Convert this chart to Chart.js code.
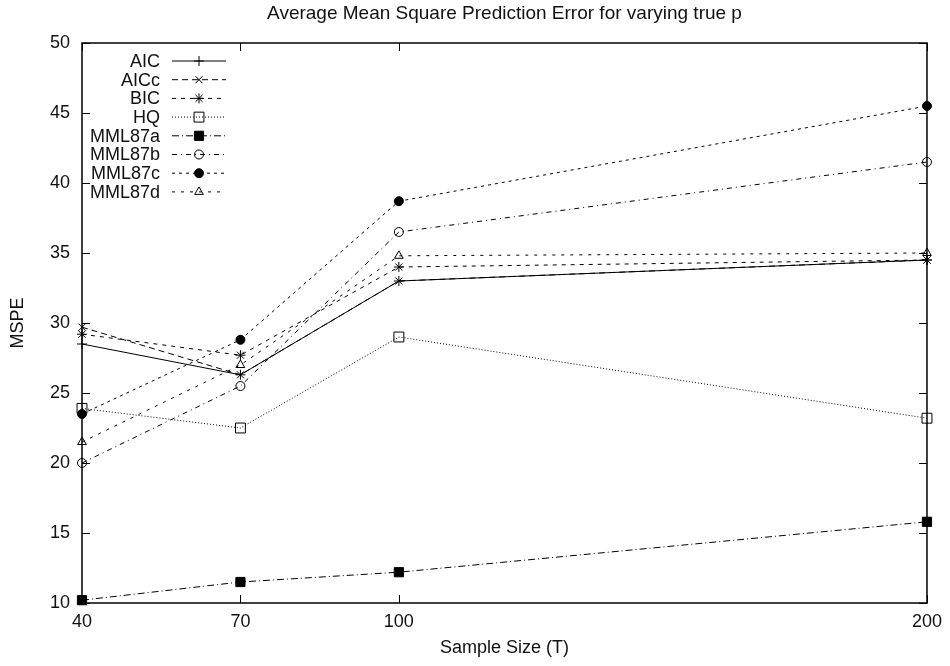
<!DOCTYPE html>
<html>
<head>
<meta charset="utf-8">
<script src="https://cdn.jsdelivr.net/npm/chart.js@4.4.0/dist/chart.umd.min.js"></script>
<style>
    html, body { margin: 0; padding: 0; background: #fff; }
</style>
</head>
<body>
<canvas id="chart" width="950" height="666"></canvas>
<script>
// values
const sampleSizes = [40, 70, 100, 200]
const xTickValues = [40, 70, 100, 200]
const aic = [28.5, 26.3, 33.0, 34.5]
const aicc = [29.7, 26.3, 33.0, 34.5]
const bic = [29.2, 27.7, 34.0, 34.5]
const hq = [23.9, 22.5, 29.0, 23.2]
const mml87a = [10.2, 11.5, 12.2, 15.8]
const mml87b = [20.0, 25.5, 36.5, 41.5]
const mml87c = [23.5, 28.8, 38.7, 45.5]
const mml87d = [21.5, 27.0, 34.8, 35.0]

const chartTitle = 'Average Mean Square Prediction Error for varying true p'
const FONT = '"Liberation Sans", Arial, Helvetica, sans-serif'
const NONE = 'rgba(0,0,0,0)'

function series(label, values, dash, style, radius, fill) {
    return {
        label: label,
        data: values.map((v, i) => ({x: sampleSizes[i], y: v})),
        borderColor: '#000',
        borderWidth: 1,
        borderDash: dash,
        pointStyle: style,
        pointRadius: radius,
        pointHoverRadius: radius,
        pointBorderColor: '#000',
        pointBorderWidth: 1,
        pointBackgroundColor: fill ? '#000' : NONE,
        tension: 0,
        clip: false,
    }
}

const datasets = [
    series('AIC', aic, [], 'cross', 5, false),
    series('AICc', aicc, [6, 4], 'crossRot', 5, false),
    series('BIC', bic, [4, 5], 'star', 5, false),
    series('HQ', hq, [1, 2], 'rect', 7, false),
    series('MML87a', mml87a, [7, 3, 1, 3], 'rect', 6.5, true),
    series('MML87b', mml87b, [5, 4, 1, 4], 'circle', 4.5, false),
    series('MML87c', mml87c, [3, 4], 'circle', 4.5, true),
    series('MML87d', mml87d, [3, 6], 'triangle', 5, false),
]

// gnuplot style frame with inward ticks on all four sides, title centred on the plot
const frame = {
    id: 'frame',
    beforeDatasetsDraw(chart) {
        const {ctx, chartArea: a} = chart
        const xs = chart.scales.x
        const ys = chart.scales.y
        ctx.save()
        ctx.fillStyle = '#111'
        ctx.font = '19px ' + FONT
        ctx.textAlign = 'center'
        ctx.textBaseline = 'middle'
        ctx.fillText(chartTitle, (a.left + a.right) / 2, 14)

        ctx.strokeStyle = '#000'
        ctx.lineWidth = 1.5
        ctx.strokeRect(a.left, a.top, a.right - a.left, a.bottom - a.top)
        ctx.lineWidth = 1
        ctx.beginPath()
        xs.ticks.forEach(t => {
            const px = Math.round(xs.getPixelForValue(t.value)) + 0.5
            ctx.moveTo(px, a.bottom); ctx.lineTo(px, a.bottom - 8)
            ctx.moveTo(px, a.top); ctx.lineTo(px, a.top + 8)
        })
        ys.ticks.forEach(t => {
            const py = Math.round(ys.getPixelForValue(t.value)) + 0.5
            ctx.moveTo(a.left, py); ctx.lineTo(a.left + 8, py)
            ctx.moveTo(a.right, py); ctx.lineTo(a.right - 8, py)
        })
        ctx.stroke()
        ctx.restore()
    }
}

// key in the top left corner: right aligned text, sample line on the right
const keyBox = {
    id: 'keyBox',
    afterDraw(chart) {
        const ctx = chart.ctx
        ctx.save()
        ctx.font = '18px ' + FONT
        ctx.textAlign = 'right'
        ctx.textBaseline = 'middle'
        chart.data.datasets.forEach((ds, i) => {
            const y = 61 + i * 18.7
            ctx.fillStyle = '#111'
            ctx.fillText(ds.label, 160, y + 1)
            ctx.strokeStyle = '#000'
            ctx.lineWidth = 1
            ctx.setLineDash(ds.borderDash)
            ctx.beginPath()
            ctx.moveTo(172, y)
            ctx.lineTo(226, y)
            ctx.stroke()
            ctx.setLineDash([])
            ctx.fillStyle = ds.pointBackgroundColor
            Chart.helpers.drawPoint(ctx, {
                pointStyle: ds.pointStyle,
                radius: ds.pointRadius,
                rotation: 0,
                borderWidth: 1
            }, 199, y)
        })
        ctx.restore()
    }
}

new Chart(document.getElementById('chart'), {
    type: 'line',
    data: {datasets: datasets},
    plugins: [frame, keyBox],
    options: {
        responsive: false,
        animation: false,
        layout: {padding: {left: 0, right: 23, top: 43, bottom: 0}},
        plugins: {
            legend: {display: false},
            tooltip: {enabled: false},
            title: {display: false},
        },
        scales: {
            x: {
                type: 'linear',
                min: 40,
                max: 200,
                afterBuildTicks: (scale) => {
                    scale.ticks = xTickValues.map(v => ({value: v}))
                },
                afterFit: (scale) => { scale.height = 63 },
                grid: {display: false, drawTicks: false},
                border: {display: false},
                ticks: {
                    color: '#111',
                    padding: 8,
                    maxRotation: 0,
                    font: {family: FONT, size: 18},
                },
                title: {
                    display: true,
                    text: 'Sample Size (T)',
                    color: '#111',
                    font: {family: FONT, size: 18},
                    padding: {top: 0, bottom: 7},
                },
            },
            y: {
                min: 10,
                max: 50,
                afterFit: (scale) => { scale.width = 82 },
                grid: {display: false, drawTicks: false},
                border: {display: false},
                ticks: {
                    stepSize: 5,
                    color: '#111',
                    padding: 12,
                    font: {family: FONT, size: 18},
                },
                title: {
                    display: true,
                    text: 'MSPE',
                    color: '#111',
                    font: {family: FONT, size: 18},
                    padding: {top: 7, bottom: 0},
                },
            },
        },
    },
})
</script>
</body>
</html>
